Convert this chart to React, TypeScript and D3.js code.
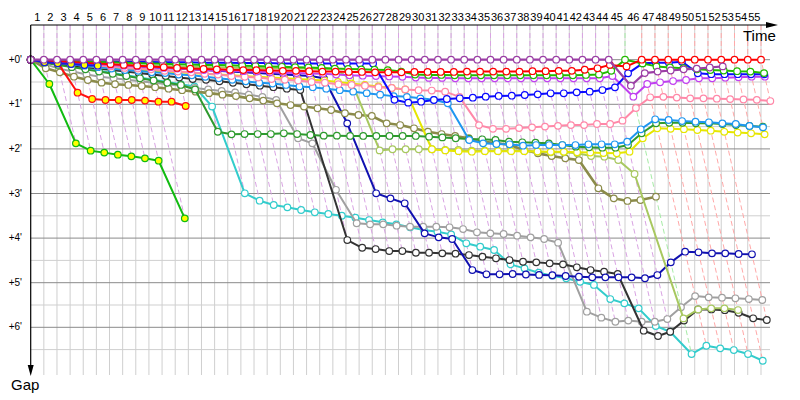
import React from "react";
import * as d3 from "d3";

// Leader lap times (seconds), laps 1..55
const leaderLapTimes = [
  78.2, 78.2, 78.2, 78.2, 78.2, 78.2, 78.2, 78.2, 78.2, 78.2,
  78.2, 78.2, 78.2, 78.2, 78.2, 78.2, 78.2, 78.2, 78.2, 78.2,
  78.2, 78.2, 78.2, 78.2, 78.2, 78.2, 78.2, 78.2, 78.2, 78.2,
  78.2, 78.2, 78.2, 78.2, 78.2, 78.2, 78.2, 78.2, 78.2, 78.2,
  78.2, 78.2, 78.2, 78.2, 97.0, 99.4, 78.9, 78.9, 78.9, 78.9,
  78.9, 78.9, 78.9, 78.9, 78.9,
];

const lapLabels = [
  "1","2","3","4","5","6","7","8","9","10","11","12","13","14","15","16","17","18","19","20",
  "21","22","23","24","25","26","27","28","29","30","31","32","33","34","35","36","37","38","39","40",
  "41","42","43","44","45","46","47","48","49","50","51","52","53","54","55",
];

const gapTicks = [0, 1, 2, 3, 4, 5, 6];
const gapTickLabels = ["+0'", "+1'", "+2'", "+3'", "+4'", "+5'", "+6'"];

// gaps to leader in seconds, index = lap number (0 = start)
const cyanGaps = [0,3,6,9,12,15,18,21,24,27,30,33,36,63,179.7,189.7,195.5,198.6,202.2,205.3,207.6,209.9,212.5,215.7,218.8,221.5,225.5,229.1,231.4,235,247,251.6,256,275.3,280.7,286.6,290.6,294.1,298.7,303,322,327.8,334.5,358.3,366,396,384.8,388.3,390.6,396,405];
const grayGaps = [0,6,12,16,20,23,25,27,29,31,33,35,38,40,42,44,47,50,54,105.7,112.5,175,220,221.5,221.5,223.3,224.7,224.7,224.7,225.5,227.8,232.2,233.6,234.5,236.8,239,241.2,246.2,339,347,352.5,351,352.5,352.5,348.9,333,318,319.7,320.2,321,322,323.3];
const blackGaps = [0,3,6,8,10,12,14,16,18,20,22,24,26,27,29,31,33,35,37,39,40.8,242.6,253,254.7,257.4,257.4,259.7,259.7,260.5,261,262.8,265,267.2,269.5,271.8,272.6,274,275.3,279.3,283,285.2,288.3,364.6,371.7,366,351,336,336,337,340.4,347.9,350.2];
const navyGaps = [0,2,3,4,5,6,7,8,9,10,11,12,13,14,15,16,17,18,19,20,21,22,25,85.6,179.7,186.5,193.2,233.6,239,241.2,283,288.7,288.7,288.3,289,289.5,290,291,292,292.8,292.8,292.8,292.8,294,289.7,272.6,258.3,259.1,260.5,260.5,261.4,261.8];
const oliveGaps = [0,11.6,17,22.9,27.3,30.9,33,34,35.4,37,39,41,43,45,47,49,52,55,58.7,61,63,65.4,67.7,72,74.4,75.7,85.6,87.9,92.3,96.9,100,102.6,105.7,110.3,112,114.8,121.5,126,129.6,132.7,135,173,186.5,190,188.8,184.3];
const yellowGreenGaps = [0,2,3,4,5,6,6.5,7,7.5,8,8.5,9,9.5,10,10,10.5,11,11,11.5,11.5,12,12,12.5,13,25,122,120.5,120.5,120.5,120.5,121.5,121.5,122.4,122.4,122.4,122.4,122.4,123.8,124.6,124.6,126,129.6,130.5,135,153.8,348,336,334.5,334.5,336.8];
const yellowGaps = [0,2,4,6,8,10,12,13,14,15,16,17,18,19,20,21,22,23,24,25,26,27,28,30,32,34,36,38,40,120.5,122,123,123.8,123,123,123,123,123.5,124,124,124.5,125,125.5,126,123.8,105.7,92.3,93,93.5,94.6,95.5,97,98,99,100.4];
const darkGreenGaps = [0,4,7,10,13,16,19,22,25,28,31,34,40,96.9,100.4,100,100,100,99,100,101.3,102.2,102.2,102.6,102.6,102.6,102.6,102.6,102.6,103.6,104.5,105.7,106.7,107.1,108,110.3,111.1,111.7,112.5,114.8,117,117.9,118.4,118.4,114.8,99,85.6,84.8,84.8,85.6,85.6,86.5,87.9,89.2,90.1];
const lightBlueGaps = [0,2,4,6,8,10,12,14,15,17,18,20,21,23,25,27,29,31,32,34,36,37,39,41,43,45,47,49,50,52,54,58.7,108,112.5,113.4,113.8,115.7,114.8,114.8,114.8,114.8,113.8,113.8,113.8,110.3,93.6,80.2,81.1,82.5,83.4,84.2,85.6,86.5,89.2,91];
const pinkGaps = [0,2,3,5,6,8,9,11,12,13,15,16,17,19,20,22,23,24,26,27,28,30,31,33,34,35,37,38,40,41,41.5,43,50,88,93,93,92,91,90,89,88,88,86.5,86.5,82,65,50.6,50,51,52,52,52.5,53,53.5,54,55.6];
const magentaGaps = [0,2,3,4,5,6,7,8,9,10,11,12,13,14,14.5,15,15.5,16,17,17.5,18,18.5,19,20,21,21.5,22,22.5,23,24,24.5,24.5,25,25,25,25,25,25,25,25,25,25,25,25,22,49.8,32.7,30.4,28.7,27.3,25,25,24.2,23.7,22.9,22.9];
const blueGaps = [0,1,1.5,2,2,2.5,2.5,3,3,3,3.5,3.5,3.5,4,4,4,4.5,4.5,4.5,5,5,5,5,5,5,5,5,54,57.8,56.5,54.2,52.9,51.9,51.1,49.8,48.8,48.4,47.5,46.6,45.2,45.2,43.9,43,40.8,37.2,18.3,4.9,4,4,2.6,18.3,19.5,19.5,19.5,19.6,19.6];
const greenGaps = [0,1,1.5,2,2.5,3,3.5,4,4.5,5,5.5,6,6.5,7,7,7.5,8,8.5,9,9.5,10,10.5,11,12,12.5,13,13.5,14,16,20,20.5,20.5,21,21,21,21,21,21,21,21,21,21,20.5,20,15,0,5,9,10.5,11.5,13,14,14.5,15.5,16,18];
const redGaps = [0,1,2,3,4,5,6,7,8,9,10,11,12,12.5,13,13.5,14,14,14.5,15,15,15.5,16,16,16.5,16.5,17,17,17,16.5,16.5,16.5,16.5,16,16,16,16,16,15.5,15.5,15,15,13.5,11.6,7,9,0,0,0,0,0,0,0,0,0,0];
const purpleGaps = [0,0,0,0,0,0,0,0,0,0,0,0,0,0,0,0,0,0,0,0,0,0,0,0,0,0,0,0,0,0,0,0,0,0,0,0,0,0,0,0,0,0,0,0,0,35,18,16,14.5,13,12,10.5,9];
const greenRetiredGaps = [0,32.7,112.5,122.4,125,127.8,130,132.7,135.9,213.4];
const redRetiredGaps = [0,2.5,4,44.4,52.9,54.2,54.2,54.2,55,56.5,56.5,62.3];
const blueRetiredGaps = [0,3.5,4.8,5.8,7.1,8.1];

const seriesGaps = [cyanGaps, grayGaps, blackGaps, navyGaps, oliveGaps, yellowGreenGaps, yellowGaps, darkGreenGaps, lightBlueGaps, pinkGaps, magentaGaps, blueGaps, greenGaps, redGaps, greenRetiredGaps, redRetiredGaps, blueRetiredGaps, purpleGaps];
const seriesColors = ["#33CCCC", "#A0A0A0", "#333333", "#1010B0", "#8B8B4A", "#A8C860", "#E6E600", "#2E9A2E", "#1E96F0", "#FF88A8", "#C040F0", "#0A0AFF", "#22BB00", "#FF0000", "#11BB11", "#FF1010", "#1A1AE0", "#9B3FA5"];
const seriesWidths = [2, 2, 2, 2, 2.6, 2, 2, 2, 2, 2, 2, 2, 2, 2, 2, 2, 2, 2.2];
const seriesFills = ["#fff","#fff","#fff","#fff","#fff","#fff","#fff","#fff","#fff","#fff","#fff","#fff","#fff","#fff","#FFFF00","#FFFF00","#FFFF00","#fff"];
const lapLineColors = { "#9B3FA5": "#D9A3E3", "#22BB00": "#A6EBA6", "#FF0000": "#FFA8A8" } as Record<string, string>;

export default function App() {
  const W = 800, H = 400;
  const left = 30.7, top = 25, bottom = 375, right = 770;
  const leaderTimes = [0];
  leaderLapTimes.forEach((t, i) => leaderTimes.push(leaderTimes[i] + t));
  const total = leaderTimes[leaderTimes.length - 1];
  const x = d3.scaleLinear().domain([0, total]).range([left, 761]);
  const y = d3.scaleLinear().domain([0, 360]).range([59.7, 327.3]);
  const line = d3.line<[number, number]>().x((d) => d[0]).y((d) => d[1]);

  const hGrid: { v: number; major: boolean }[] = [];
  for (let s = 30; s <= 390; s += 30) hGrid.push({ v: s, major: s % 60 === 0 });

  const lapLines = lapLabels.map((_, i) => {
    const lap = i + 1;
    let gmax = 0;
    let leaderColor = "#9B3FA5";
    seriesGaps.forEach((g, si) => {
      if (g.length > lap) {
        if (g[lap] > gmax) gmax = g[lap];
        if (g[lap] === 0 && lapLineColors[seriesColors[si]]) leaderColor = seriesColors[si];
      }
    });
    const xl = x(leaderTimes[lap]);
    const d = line([
      [xl, top],
      [xl, y(0)],
      [x(leaderTimes[lap] + gmax), y(gmax)],
    ]);
    return { d, color: lapLineColors[leaderColor] };
  });

  return (
    <div style={{ position: "absolute", left: 0, top: 0 }}>
      <svg width={W} height={H} style={{ display: "block", background: "#fff", fontFamily: "'Liberation Sans', Arial, sans-serif" }}>
        {lapLabels.map((_, i) => (
          <line key={"vg" + i} x1={x(leaderTimes[i + 1])} x2={x(leaderTimes[i + 1])} y1={top} y2={bottom} stroke="#cfcfcf" strokeWidth={1} />
        ))}
        {hGrid.map((h) => (
          <line key={"hg" + h.v} x1={left} x2={right} y1={y(h.v)} y2={y(h.v)} stroke={h.major ? "#8a8a8a" : "#cfcfcf"} strokeWidth={1} />
        ))}
        <line x1={left} x2={right} y1={y(0)} y2={y(0)} stroke="#8a8a8a" strokeWidth={1} />
        {lapLines.map((l, i) => (
          <path key={"ll" + i} d={l.d || ""} fill="none" stroke={l.color} strokeWidth={1} strokeDasharray="5,3" />
        ))}
        {seriesGaps.map((g, si) => {
          const pts: [number, number][] = g.map((v, lap) => [x(leaderTimes[lap] + v), y(v)]);
          return (
            <g key={"s" + si}>
              <path d={line(pts) || ""} fill="none" stroke={seriesColors[si]} strokeWidth={seriesWidths[si]} strokeLinejoin="round" />
              {pts.map((p, k) => (
                <circle key={k} cx={p[0]} cy={p[1]} r={3.3} fill={seriesFills[si]} stroke={seriesColors[si]} strokeWidth={1.2} />
              ))}
            </g>
          );
        })}
        <line x1={left} x2={left} y1={top} y2={bottom - 8} stroke="#000" strokeWidth={1.2} />
        <path d={`M${left - 3},${bottom - 10} L${left + 3},${bottom - 10} L${left},${bottom + 1} Z`} fill="#000" />
        <line x1={left} x2={768} y1={top} y2={top} stroke="#000" strokeWidth={1.2} />
        <path d={`M766,${top - 3} L766,${top + 3} L778,${top} Z`} fill="#000" />
        {lapLabels.map((lb, i) => (
          <text key={"lb" + i} x={(x(leaderTimes[i]) + x(leaderTimes[i + 1])) / 2} y={21} fontSize={11} textAnchor="middle" fill="#000">
            {lb}
          </text>
        ))}
        {gapTicks.map((m, i) => (
          <text key={"gt" + i} x={22} y={y(m * 60) + 3} fontSize={10} textAnchor="end" fill="#000">
            {gapTickLabels[i]}
          </text>
        ))}
        <text x={743} y={41} fontSize={15} fill="#000">Time</text>
        <text x={11} y={390} fontSize={15} fill="#000">Gap</text>
      </svg>
    </div>
  );
}
